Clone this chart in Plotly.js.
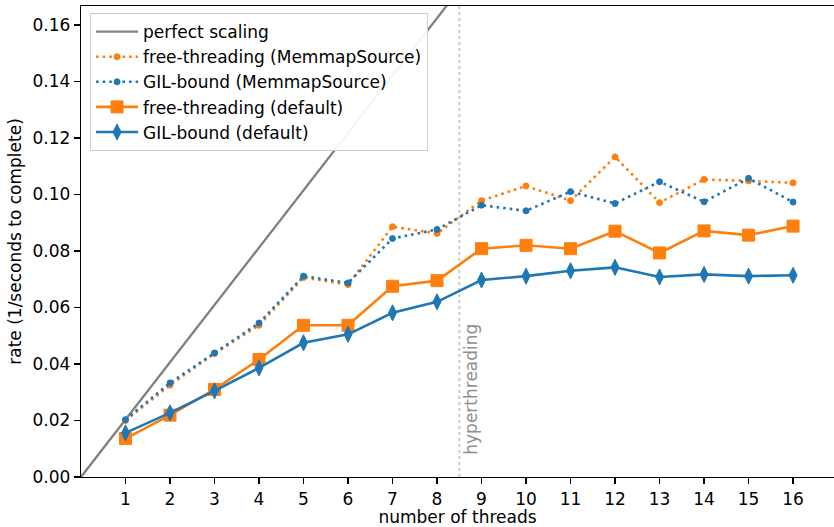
<!DOCTYPE html>
<html>
<head>
<meta charset="utf-8">
<script src="https://cdn.plot.ly/plotly-3.0.1.min.js"></script>
<style>
  html, body { margin: 0; padding: 0; background: #fff; }
  #chart { width: 834px; height: 527px; }
</style>
</head>
<body>
<div id="chart"></div>
<script>
// Thread counts on the x axis
const threads = [1, 2, 3, 4, 5, 6, 7, 8, 9, 10, 11, 12, 13, 14, 15, 16];

// Rate (1 / seconds to complete) per thread count
const freeMemmap = [0.0200, 0.0325, 0.0437, 0.0537, 0.0706, 0.0681, 0.0886, 0.0862,
                    0.0978, 0.1030, 0.0978, 0.1133, 0.0971, 0.1053, 0.1048, 0.1041];
const gilMemmap  = [0.0203, 0.0333, 0.0439, 0.0545, 0.0711, 0.0687, 0.0844, 0.0876,
                    0.0962, 0.0942, 0.1010, 0.0968, 0.1045, 0.0974, 0.1057, 0.0973];
const freeDefault = [0.0136, 0.0219, 0.0310, 0.0416, 0.0537, 0.0537, 0.0675, 0.0695,
                     0.0808, 0.0820, 0.0808, 0.0870, 0.0793, 0.0871, 0.0856, 0.0888];
const gilDefault  = [0.0156, 0.0227, 0.0305, 0.0386, 0.0475, 0.0505, 0.0581, 0.0620,
                     0.0697, 0.0711, 0.0730, 0.0742, 0.0708, 0.0717, 0.0711, 0.0714];

// Ideal linear scaling from the single-thread rate
const perfectX = [0].concat(threads);
const perfectY = perfectX.map(n => n * gilMemmap[0]);

// Physical core count; beyond this the OS schedules onto hyperthreads
const hyperthreadAt = 8.5;

const yTicks = [0, 0.02, 0.04, 0.06, 0.08, 0.10, 0.12, 0.14, 0.16];

const ORANGE = '#ff7f0e';
const BLUE = '#1f77b4';
const FONT = 'DejaVu Sans, sans-serif';

const traces = [
  {
    x: perfectX, y: perfectY, name: 'perfect scaling', mode: 'lines',
    line: { color: '#808080', width: 2.3 }
  },
  {
    x: threads, y: freeMemmap, name: 'free-threading (MemmapSource)', mode: 'lines+markers',
    line: { color: ORANGE, width: 2.6, dash: '2.6px,4px' },
    marker: { symbol: 'circle', size: 6, color: ORANGE, line: { color: ORANGE, width: 1 } }
  },
  {
    x: threads, y: gilMemmap, name: 'GIL-bound (MemmapSource)', mode: 'lines+markers',
    line: { color: BLUE, width: 2.6, dash: '2.6px,4px' },
    marker: { symbol: 'circle', size: 6, color: BLUE, line: { color: BLUE, width: 1 } }
  },
  {
    x: threads, y: freeDefault, name: 'free-threading (default)', mode: 'lines+markers',
    line: { color: ORANGE, width: 2.6 },
    marker: { symbol: 'square', size: 12, color: ORANGE, line: { color: ORANGE, width: 1 } }
  },
  {
    x: threads, y: gilDefault, name: 'GIL-bound (default)', mode: 'lines+markers',
    line: { color: BLUE, width: 2.6 },
    marker: { symbol: 'diamond-tall', size: 11.5, color: BLUE, line: { color: BLUE, width: 1 } }
  }
];

const layout = {
  width: 834, height: 527,
  margin: { l: 81, r: 0, t: 6, b: 50 },
  paper_bgcolor: '#fff', plot_bgcolor: '#fff',
  font: { family: FONT, size: 17, color: '#000' },
  showlegend: true,
  legend: {
    x: 0.012, y: 0.985, xanchor: 'left', yanchor: 'top',
    bgcolor: 'rgba(255,255,255,0.92)', bordercolor: '#cccccc', borderwidth: 1,
    font: { family: FONT, size: 17, color: '#000' },
    itemwidth: 42,
    tracegroupgap: 0
  },
  xaxis: {
    range: [0, 16.92],
    tickvals: threads, ticktext: threads.map(String),
    ticks: 'outside', ticklen: 6, tickwidth: 1.3, tickcolor: '#000',
    showline: true, linecolor: '#000', linewidth: 1.3, mirror: true,
    showgrid: false, zeroline: false,
    tickfont: { family: FONT, size: 17, color: '#000' },
    title: { text: 'number of threads', font: { family: FONT, size: 17, color: '#000' }, standoff: 8 }
  },
  yaxis: {
    range: [0, 0.1667],
    tickvals: yTicks, ticktext: yTicks.map(v => v.toFixed(2)),
    ticks: 'outside', ticklen: 6, tickwidth: 1.3, tickcolor: '#000',
    showline: true, linecolor: '#000', linewidth: 1.3, mirror: false,
    showgrid: false, zeroline: false,
    tickfont: { family: FONT, size: 17, color: '#000' },
    title: { text: 'rate (1/seconds to complete)', font: { family: FONT, size: 17, color: '#000' }, standoff: 6 }
  },
  shapes: [{
    type: 'line', xref: 'x', yref: 'paper',
    x0: hyperthreadAt, x1: hyperthreadAt, y0: 0, y1: 1,
    line: { color: '#cfcfcf', width: 2.2, dash: 'dot' },
    layer: 'below'
  }],
  annotations: [{
    text: 'hyperthreading', xref: 'x', yref: 'y',
    x: hyperthreadAt, y: 0.0071, xanchor: 'left', yanchor: 'bottom',
    textangle: -90, showarrow: false, xshift: 0,
    font: { family: FONT, size: 17, color: '#8f8f8f' }
  }]
};

Plotly.newPlot('chart', traces, layout, { displayModeBar: false, staticPlot: true });
</script>
</body>
</html>
